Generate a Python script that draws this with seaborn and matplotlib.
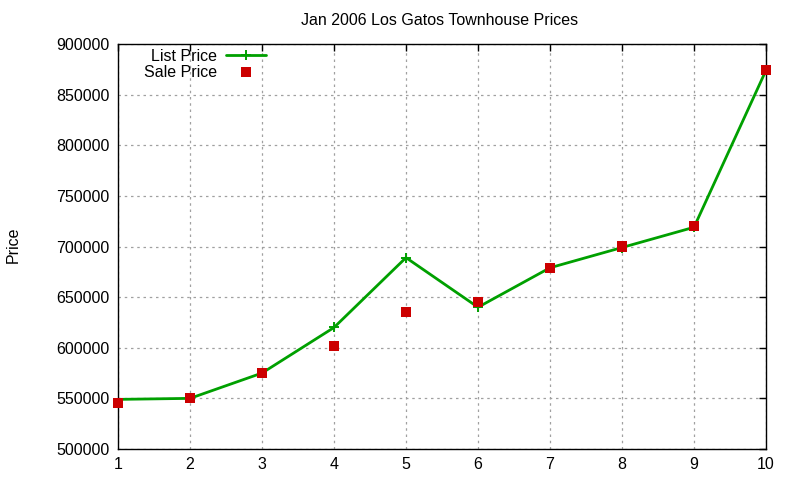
import numpy as np
import pandas as pd
import matplotlib
matplotlib.use("Agg")
import matplotlib.pyplot as plt
import seaborn as sns

# Values
house = [1, 2, 3, 4, 5, 6, 7, 8, 9, 10]
list_price = [549000, 550000, 575000, 620000, 689000, 640000, 679000, 699000, 719000, 874000]
sale_price = [545000, 550000, 575000, 602000, 635000, 645000, 679000, 700000, 720000, 874000]
y_ticks = [500000, 550000, 600000, 650000, 700000, 750000, 800000, 850000, 900000]

df = pd.DataFrame({"house": house, "list": list_price, "sale": sale_price})

sns.set_style("white")
plt.rcParams['font.family'] = ['Liberation Sans', 'DejaVu Sans']
plt.rcParams['text.color'] = 'black'

fig = plt.figure(figsize=(8, 4.8), dpi=100)
ax = fig.add_axes([0.1475, 0.0646, 0.81, 0.8437])

green = "#00a000"
red = "#cc0000"
sns.lineplot(data=df, x="house", y="list", ax=ax, color=green, lw=2,
             marker="+", markersize=7, markeredgewidth=1.4,
             markeredgecolor=green, label="List Price")
sns.scatterplot(data=df, x="house", y="sale", ax=ax, color=red, marker="s",
                s=52, edgecolor="none", label="Sale Price", zorder=3, clip_on=False)

ax.set_xlim(1, 10)
ax.set_ylim(500000, 900000)
ax.set_xticks(house)
ax.set_yticks(y_ticks)
ax.tick_params(direction="in", length=5, width=1, top=True, right=True,
               labelsize=11.5, colors="black", pad=6)
ax.grid(True, color="#a0a0a0", linestyle=(0, (2, 3)), linewidth=0.9)
for s in ax.spines.values():
    s.set_color("black")
    s.set_linewidth(1)

ax.set_xlabel("")
ax.set_ylabel("")
fig.text(0.016, 0.49, "Price", rotation=90, ha="center", va="center",
         fontsize=11.5, color="black")
fig.text(0.55, 0.958, "Jan 2006 Los Gatos Townhouse Prices", ha="center", va="center",
         fontsize=11.5, color="black")

leg = ax.legend(loc="upper left", bbox_to_anchor=(0.025, 1.012), frameon=False,
                markerfirst=False, fontsize=11.5, handlelength=2.5,
                labelspacing=0.05, borderaxespad=0.2, handletextpad=0.6)
for t in leg.get_texts():
    t.set_ha("right")
    t.set_color("black")

fig.savefig("out.png", dpi=100)
